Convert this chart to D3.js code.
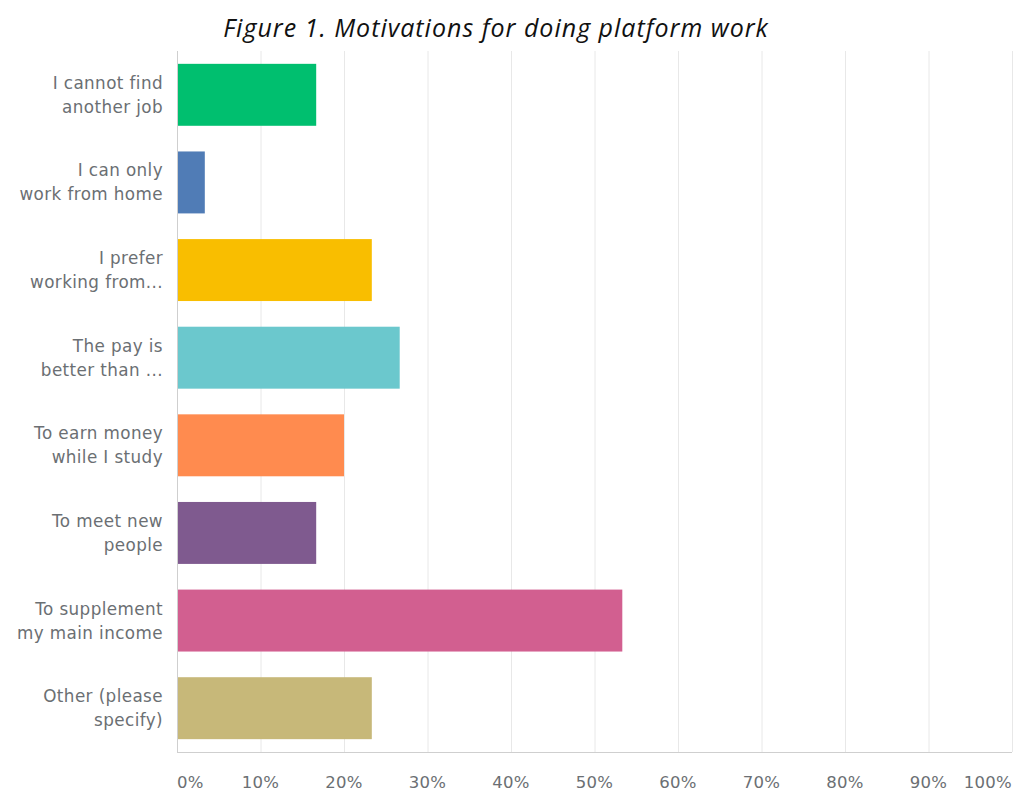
<!DOCTYPE html>
<html>
<head>
<meta charset="utf-8">
<script src="https://cdn.jsdelivr.net/npm/d3@7"></script>
<style>
  body { margin: 0; background: #fff; }
</style>
</head>
<body>
<div id="chart"></div>
<script>
// answer choices (two-line labels as shown on the chart)
var categories = [
  ["I cannot find", "another job"],
  ["I can only", "work from home"],
  ["I prefer", "working from..."],
  ["The pay is", "better than ..."],
  ["To earn money", "while I study"],
  ["To meet new", "people"],
  ["To supplement", "my main income"],
  ["Other (please", "specify)"]
];
// share of respondents, percent
var values = [16.67, 3.33, 23.33, 26.67, 20, 16.67, 53.33, 23.33];
var colors = ["#00bf6f", "#507cb6", "#f9be00", "#6bc8cd", "#ff8b4f", "#7f5a8f", "#d25f90", "#c7b879"];
var ticks = [0, 10, 20, 30, 40, 50, 60, 70, 80, 90, 100];

function init() {
  var w = 1014, h = 791;
  var left = 177, right = 1012, top = 51, bottom = 752;

  var svg = d3.select("#chart").append("svg")
    .attr("width", w)
    .attr("height", h);

  var xScale = d3.scaleLinear().domain([0, 100]).range([left, right]);
  var yScale = d3.scaleBand()
    .domain(d3.range(categories.length))
    .range([top, bottom])
    .paddingInner(0.293)
    .paddingOuter(0.1465);

  // title
  svg.append("text")
    .attr("x", 496)
    .attr("y", 37)
    .attr("text-anchor", "middle")
    .style("font-family", "'Open Sans', sans-serif")
    .style("font-style", "italic")
    .style("font-size", "25px")
    .style("letter-spacing", "1px")
    .style("fill", "#111")
    .text("Figure 1. Motivations for doing platform work");

  // vertical gridlines
  svg.append("g").selectAll("line")
    .data(ticks.slice(1))
    .enter().append("line")
    .attr("x1", function(d) { return xScale(d) + 0.5; })
    .attr("x2", function(d) { return xScale(d) + 0.5; })
    .attr("y1", top)
    .attr("y2", bottom)
    .style("stroke", "#e8e8e8")
    .style("stroke-width", 1);

  // bars
  svg.append("g").selectAll("rect")
    .data(values)
    .enter().append("rect")
    .attr("x", xScale(0))
    .attr("y", function(d, i) { return yScale(i); })
    .attr("width", function(d) { return xScale(d) - xScale(0); })
    .attr("height", yScale.bandwidth())
    .style("fill", function(d, i) { return colors[i]; });

  // axis lines
  svg.append("line")
    .attr("x1", left + 0.5).attr("x2", left + 0.5)
    .attr("y1", top).attr("y2", bottom)
    .style("stroke", "#cfcfcf");
  svg.append("line")
    .attr("x1", left).attr("x2", right)
    .attr("y1", bottom + 0.5).attr("y2", bottom + 0.5)
    .style("stroke", "#cfcfcf");

  // category labels
  var labels = svg.append("g").selectAll("text")
    .data(categories)
    .enter().append("text")
    .attr("text-anchor", "end")
    .style("font-family", "'DejaVu Sans', sans-serif")
    .style("font-size", "16.8px")
    .style("letter-spacing", "0.4px")
    .style("fill", "#6b6f73");
  labels.each(function(d, i) {
    var cy = yScale(i) + yScale.bandwidth() / 2;
    d3.select(this).selectAll("tspan")
      .data(d)
      .enter().append("tspan")
      .attr("x", 163)
      .attr("y", function(t, j) { return cy + (j === 0 ? -12 : 12) + 6; })
      .text(function(t) { return t; });
  });

  // x tick labels
  svg.append("g").selectAll("text")
    .data(ticks)
    .enter().append("text")
    .attr("x", function(d) { return xScale(d); })
    .attr("y", 788)
    .attr("text-anchor", function(d) {
      if (d === 0) return "start";
      if (d === 100) return "end";
      return "middle";
    })
    .style("font-family", "'DejaVu Sans', sans-serif")
    .style("font-size", "16.5px")
    .style("letter-spacing", "0.3px")
    .style("fill", "#6b6f73")
    .text(function(d) { return d + "%"; });
}

window.onload = init;
</script>
</body>
</html>
